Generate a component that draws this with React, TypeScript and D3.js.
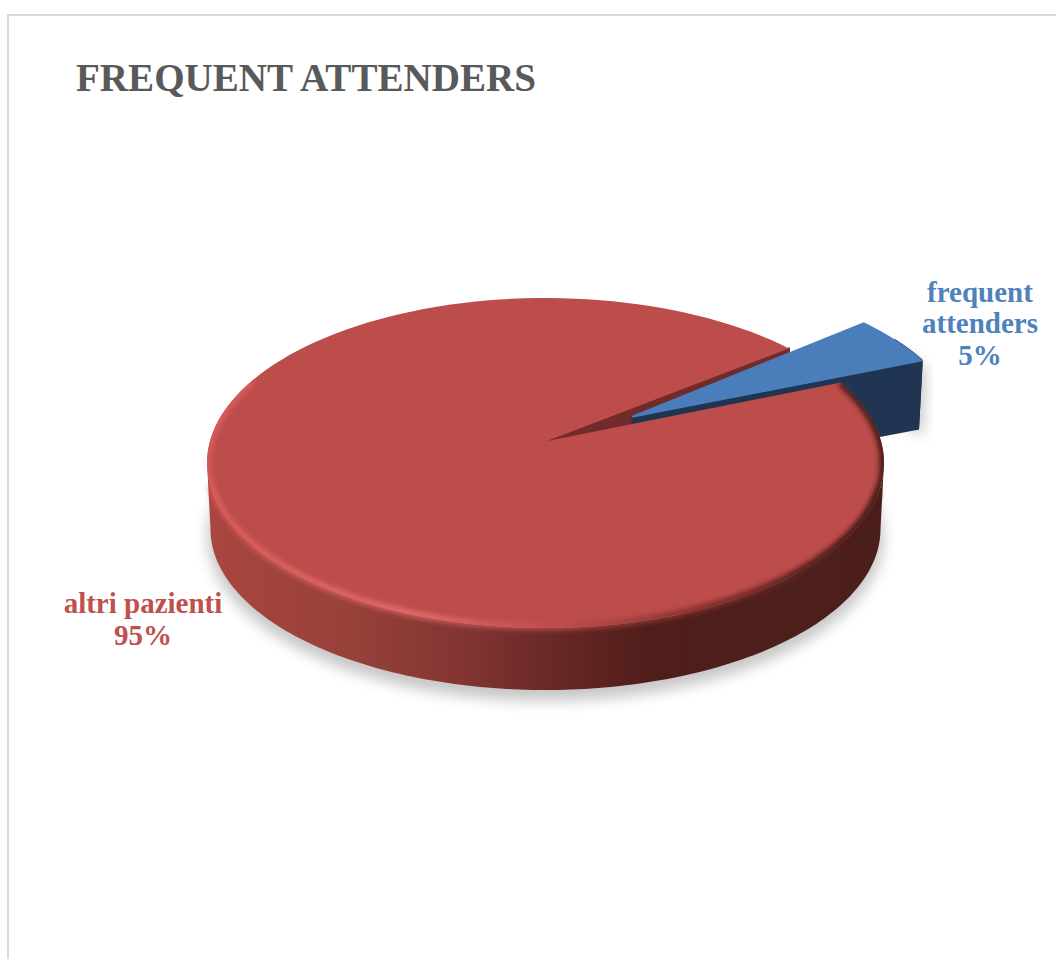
import React from "react";
import * as d3 from "d3";

const W = 1056;
const H = 959;
const categories = ["frequent attenders", "altri pazienti"];
const seriesValues = [5, 95];
const percentLabels = ["5%", "95%"];
const title = "FREQUENT ATTENDERS";
const FONT = "'Liberation Serif', serif";
const BLUE = "#4f81bd";
const RED = "#c0504d";

type E = { cx: number; cy: number; rx: number; ry: number };
const top: E = { cx: 545.5, cy: 463, rx: 338.5, ry: 165 };
const bottom: E = { cx: 545.5, cy: 529, rx: 335, ry: 161 };
const apex = { x: 547, y: 441 };
const blueTop: E = { cx: 628, cy: 441, rx: 336, ry: 165 };
const blueBottom: E = { cx: 627, cy: 507, rx: 333, ry: 161 };
const blueApex = { x: 633, y: 416.5 };
const DEPTH = 66;
// perspective foreshortens the far slice's sweep
const FORESHORTEN = 0.82;
const deg = Math.PI / 180;

const pieGen = d3.pie<number>().sort(null).startAngle(46 * deg).endAngle(406 * deg);
const slices = pieGen(seriesValues);
const [blueS, redS] = slices;
const sweep = (blueS.endAngle - blueS.startAngle) * FORESHORTEN;

const p = (e: E, a: number): [number, number] => [e.cx + e.rx * Math.sin(a), e.cy - e.ry * Math.cos(a)];
const arcPts = (e: E, a0: number, a1: number): [number, number][] => {
  const n = 160;
  return d3.range(n + 1).map((i) => p(e, a0 + ((a1 - a0) * i) / n));
};
const line = d3.line();
const poly = (pts: [number, number][]) => line(pts) + "Z";

const a0 = blueS.startAngle + sweep;
const a1 = redS.endAngle;
const b0 = blueS.startAngle - 1.5 * deg;
const b1 = blueS.startAngle + sweep;

const redTop = poly([[apex.x, apex.y], ...arcPts(top, a0, a1)]);
const redRimClipped = line(arcPts(top, a0, 300 * deg))!;
const redRimSoft = line(arcPts(top, 100 * deg, 262 * deg))!;
const redSide = poly([...arcPts(top, 90 * deg, 270 * deg), ...arcPts(bottom, 270 * deg, 90 * deg)]);
const redEnd = p(top, a1);
const redCut = poly([
  [apex.x, apex.y],
  redEnd,
  [redEnd[0] - 3, redEnd[1] + DEPTH],
  [apex.x, apex.y + DEPTH],
]);
const blueTopPath = poly([[blueApex.x, blueApex.y], ...arcPts(blueTop, b0, b1)]);
const blueEnd = p(blueTop, b1);
const blueEndB = p(blueBottom, b1);
const blueCut = poly([
  [blueApex.x, blueApex.y + 2],
  [blueEnd[0], blueEnd[1] + 2],
  blueEndB,
  [blueApex.x, blueApex.y + DEPTH],
]);
const blueSide = poly([...arcPts(blueTop, b0 + 8 * deg, b1), ...arcPts(blueBottom, b1, b0 + 8 * deg)]);

const sideStops: [number, string][] = [
  [0, "#a9463f"],
  [0.22, "#97403a"],
  [0.4, "#7f3330"],
  [0.5, "#6a2927"],
  [0.66, "#4f1d1a"],
  [0.85, "#4e201c"],
  [1, "#4a1e1b"],
];
const rimStops: [number, string][] = [
  [0, "#d65a57"],
  [0.3, "#e0686a"],
  [0.5, "#c2504e"],
  [0.72, "#8a3330"],
  [0.9, "#5a2220"],
  [1, "#4a1a18"],
];

export default function App() {
  return (
    <svg
      width={W}
      height={H}
      viewBox={`0 0 ${W} ${H}`}
      style={{ position: "absolute", left: 0, top: 0, background: "#fff" }}
    >
      <defs>
        <linearGradient id="side" gradientUnits="userSpaceOnUse" x1={top.cx - top.rx} x2={top.cx + top.rx} y1={0} y2={0}>
          {sideStops.map(([o, c]) => (
            <stop key={o} offset={o} stopColor={c} />
          ))}
        </linearGradient>
        <linearGradient id="rim" gradientUnits="userSpaceOnUse" x1={top.cx - top.rx} x2={top.cx + top.rx} y1={0} y2={0}>
          {rimStops.map(([o, c]) => (
            <stop key={o} offset={o} stopColor={c} />
          ))}
        </linearGradient>
        <filter id="shadow" x="-20%" y="-20%" width="140%" height="140%">
          <feGaussianBlur stdDeviation="7" />
        </filter>
        <filter id="soft" x="-10%" y="-10%" width="120%" height="120%">
          <feGaussianBlur stdDeviation="2.4" />
        </filter>
        <clipPath id="redClip">
          <path d={redTop} />
        </clipPath>
      </defs>

      <path d={`M8 ${H}V15H${W}`} fill="none" stroke="#d9d9d9" strokeWidth={2} />

      <text x={76} y={91} fontFamily={FONT} fontWeight={700} fontSize={41} fill="#595959" textLength={460} lengthAdjust="spacingAndGlyphs">
        {title}
      </text>

      {/* shadows */}
      <ellipse cx={bottom.cx} cy={bottom.cy + 8} rx={bottom.rx + 3} ry={bottom.ry + 3} fill="#000" opacity={0.22} filter="url(#shadow)" />
      <path d={blueSide} transform="translate(5,9)" fill="#000" opacity={0.22} filter="url(#shadow)" />

      {/* back cut face of the large slice */}
      <path d={redCut} fill="#702b2a" stroke="#702b2a" strokeWidth={2} strokeLinejoin="round" />

      {/* exploded slice */}
      <path d={blueSide} fill="#1f3552" stroke="#1f3552" strokeWidth={3} strokeLinejoin="round" />
      <path d={blueCut} fill="#1f3552" stroke="#1f3552" strokeWidth={3} strokeLinejoin="round" />
      <path d={blueTopPath} fill="#4a7ebb" stroke="#4a7ebb" strokeWidth={2} strokeLinejoin="round" />

      {/* large slice */}
      <path d={redSide} fill="url(#side)" />
      <path d={redTop} fill="#bc4d4b" />
      <g clipPath="url(#redClip)">
        <path d={redRimClipped} fill="none" stroke="url(#rim)" strokeWidth={9} filter="url(#soft)" />
      </g>
      <path d={redRimSoft} fill="none" stroke="url(#rim)" strokeWidth={4} filter="url(#soft)" />

      {/* data labels */}
      <text fontFamily={FONT} fontWeight={700} fontSize={29} fill={BLUE} textAnchor="middle">
        <tspan x={980} y={302}>frequent</tspan>
        <tspan x={980} y={333}>attenders</tspan>
        <tspan x={980} y={365}>{percentLabels[0]}</tspan>
      </text>
      <text fontFamily={FONT} fontWeight={700} fontSize={29} fill={RED} textAnchor="middle">
        <tspan x={143} y={613}>{categories[1]}</tspan>
        <tspan x={143} y={645}>{percentLabels[1]}</tspan>
      </text>
    </svg>
  );
}
